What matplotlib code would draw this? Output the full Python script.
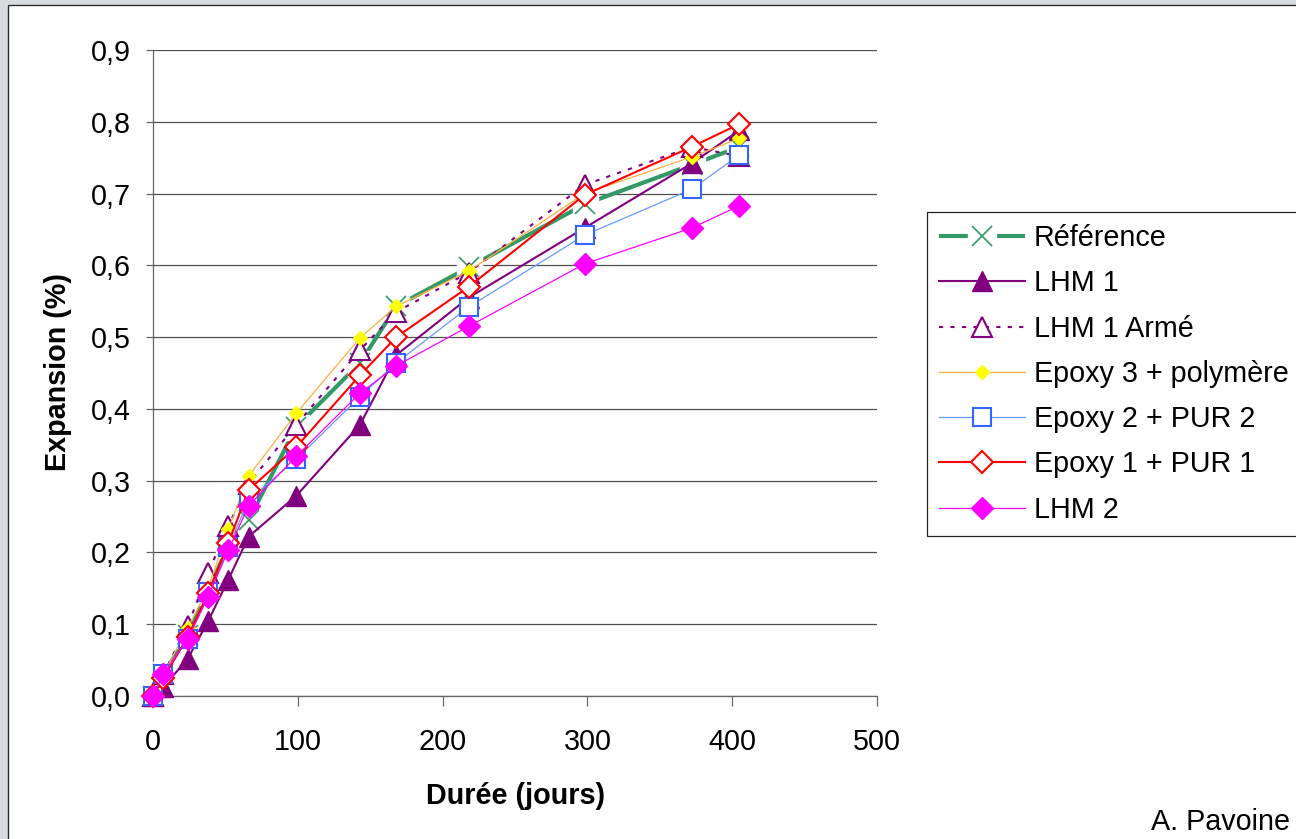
import matplotlib
matplotlib.use('Agg')
import matplotlib.pyplot as plt
from matplotlib.lines import Line2D
from matplotlib.patches import Rectangle
from matplotlib.legend_handler import HandlerTuple
from matplotlib.ticker import FuncFormatter, MultipleLocator

plt.rcParams['font.family'] = ['Liberation Sans', 'DejaVu Sans']

# ---------------- data ----------------
days = [0, 7, 24, 38, 52, 66, 99, 143, 168, 218, 298, 372, 405]
reference = [0.0, 0.03, 0.085, 0.145, 0.21, 0.245, 0.375, 0.464, 0.543, 0.597, 0.685, 0.74, 0.765]
lhm1 = [0.0, 0.012, 0.052, 0.104, 0.162, 0.222, 0.279, 0.378, 0.475, 0.555, 0.652, 0.742, 0.788]
lhm1_arme = [0.0, 0.03, 0.098, 0.171, 0.237, 0.296, 0.378, 0.482, 0.535, 0.59, 0.712, 0.765, 0.752]
epoxy3 = [0.0, 0.03, 0.095, 0.15, 0.232, 0.306, 0.394, 0.499, 0.543, 0.592, 0.70, 0.751, 0.777]
epoxy2 = [0.0, 0.03, 0.08, 0.145, 0.207, 0.273, 0.33, 0.417, 0.464, 0.542, 0.642, 0.706, 0.754]
epoxy1 = [0.0, 0.025, 0.082, 0.143, 0.213, 0.287, 0.347, 0.447, 0.50, 0.57, 0.698, 0.765, 0.797]
lhm2 = [0.0, 0.03, 0.079, 0.138, 0.203, 0.265, 0.334, 0.422, 0.46, 0.515, 0.602, 0.652, 0.683]

labels = ['Référence', 'LHM 1', 'LHM 1 Armé', 'Epoxy 3 + polymère',
          'Epoxy 2 + PUR 2', 'Epoxy 1 + PUR 1', 'LHM 2']
x_ticks = [0, 100, 200, 300, 400, 500]
xlabel = 'Durée (jours)'
ylabel = 'Expansion (%)'
credit = 'A. Pavoine'

# ---------------- figure ----------------
W, H = 1296, 839
FS = 20.7
fig = plt.figure(figsize=(W / 100, H / 100), dpi=100, facecolor='#D9DCDF')
fig.patches.append(Rectangle((8 / W, -0.05), 1.2, 1 - 5 / H + 0.05,
                             transform=fig.transFigure, facecolor='white',
                             edgecolor='#2b2b2b', lw=1.0, zorder=-1))

ax = fig.add_axes([153 / W, (H - 696) / H, 724 / W, 646 / H])
ax.set_facecolor('none')
ax.set_xlim(0, 500)
ax.set_ylim(0, 0.9)
ax.set_xticks(x_ticks)
ax.yaxis.set_major_locator(MultipleLocator(0.1))
ax.yaxis.set_major_formatter(FuncFormatter(lambda v, _: f'{v:.1f}'.replace('.', ',')))
ax.yaxis.grid(True, color='#505050', lw=0.9)
ax.set_axisbelow(True)
for s in ['top', 'right']:
    ax.spines[s].set_visible(False)
for s in ['left', 'bottom']:
    ax.spines[s].set_color('#666666')
    ax.spines[s].set_linewidth(0.9)
ax.tick_params(axis='y', length=5, width=0.9, color='#666666', pad=11, labelsize=FS)
ax.tick_params(axis='x', length=7, width=0.9, color='#666666', pad=16, labelsize=FS)

green = '#339966'
purple = '#800080'
orange = '#FFB040'
yellow = '#FFFF00'
blue_l = '#6699FF'
blue_m = '#3366FF'
red = '#FF0000'
magenta = '#FF00FF'

# Reference: thick green line, X markers on a white square background
ax.plot(days, reference, color=green, lw=3, zorder=3, clip_on=False, solid_capstyle='butt')
ax.plot(days, reference, ls='none', marker='s', ms=18, mfc='white', mec='white', zorder=3.1, clip_on=False)
ax.plot(days, reference, ls='none', marker='x', ms=15, mec=green, mew=1.2, zorder=3.2, clip_on=False)

h_lhm1, = ax.plot(days, lhm1, color=purple, lw=1.5, marker='^', ms=14.5, mfc=purple, mec=purple,
                  zorder=4, clip_on=False)
h_arme, = ax.plot(days, lhm1_arme, color=purple, lw=1.5, ls=(0, (2, 3.5)), marker='^', ms=14.5,
                  mfc='white', mec=purple, mew=1.5, zorder=5, clip_on=False)
h_ep3, = ax.plot(days, epoxy3, color=orange, lw=0.9, marker='D', ms=7, mfc=yellow, mec=yellow,
                 zorder=6, clip_on=False)
h_ep2, = ax.plot(days, epoxy2, color=blue_l, lw=0.9, marker='s', ms=13, mfc='white', mec=blue_m,
                 mew=1.5, zorder=7, clip_on=False)
h_ep1, = ax.plot(days, epoxy1, color=red, lw=1.5, marker='D', ms=11, mfc='white', mec=red,
                 mew=1.5, zorder=8, clip_on=False)
h_lhm2, = ax.plot(days, lhm2, color=magenta, lw=0.9, marker='D', ms=11.5, mfc=magenta, mec=magenta,
                  zorder=9, clip_on=False)

ref_handle = (Line2D([], [], color=green, lw=3, solid_capstyle='butt'),
              Line2D([], [], ls='none', marker='s', ms=20, mfc='white', mec='white'),
              Line2D([], [], ls='none', marker='x', ms=15, mec=green, mew=1.2))
handles = [ref_handle, h_lhm1, h_arme, h_ep3, h_ep2, h_ep1, h_lhm2]
leg = fig.legend(handles, labels, loc='upper left', bbox_to_anchor=(927 / W, 1 - 212 / H),
                 bbox_transform=fig.transFigure, fontsize=FS, frameon=True, fancybox=False,
                 edgecolor='#222222', framealpha=1, borderpad=0.42, handlelength=3.0,
                 handletextpad=0.3, labelspacing=0.6, numpoints=1, borderaxespad=0,
                 handler_map={tuple: HandlerTuple(ndivide=1, pad=0)})
leg.get_frame().set_linewidth(0.9)

fig.text(515 / W, 1 - 804 / H, xlabel, ha='center', va='baseline', fontsize=FS, fontweight='bold')
fig.text(58 / W, 1 - 372 / H, ylabel, ha='center', va='center', rotation=90, fontsize=FS,
         fontweight='bold')
fig.text(1290 / W, 1 - 830 / H, credit, ha='right', va='baseline', fontsize=FS)

fig.savefig('out.png', dpi=100, facecolor=fig.get_facecolor())
